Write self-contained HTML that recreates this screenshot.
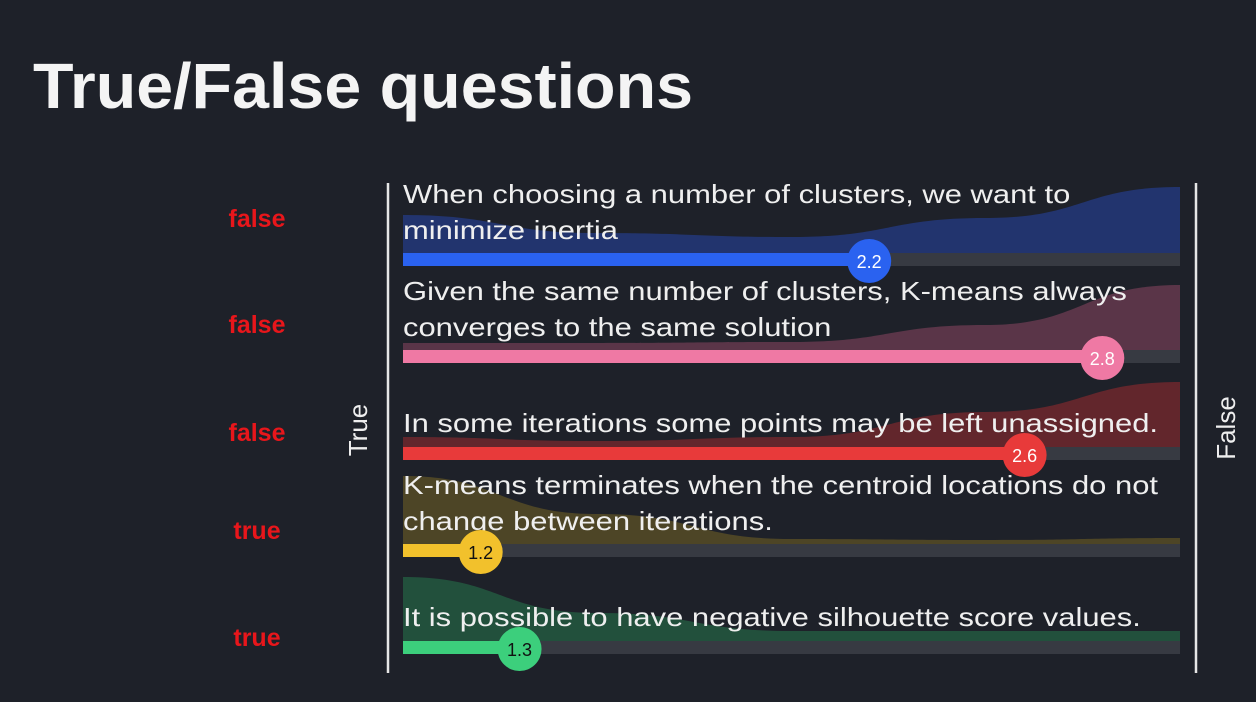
<!DOCTYPE html>
<html><head><meta charset="utf-8"><style>
html,body{margin:0;padding:0;background:#1e2129;}
svg{display:block;font-family:"Liberation Sans",sans-serif;}
</style></head><body>
<svg id="chart" width="1256" height="702" viewBox="0 0 1256 702">
<rect width="1256" height="702" fill="#1e2129"/>
<text x="33" y="108" font-size="64" font-weight="bold" fill="#f4f4f4" textLength="660" lengthAdjust="spacingAndGlyphs">True/False questions</text>
<line x1="388" y1="183" x2="388" y2="673" stroke="#e6e6e6" stroke-width="2.5"/>
<line x1="1196" y1="183" x2="1196" y2="673" stroke="#e6e6e6" stroke-width="2.5"/>
<text transform="translate(367,430) rotate(-90)" text-anchor="middle" font-size="26" fill="#eee">True</text>
<text transform="translate(1235,428) rotate(-90)" text-anchor="middle" font-size="26" fill="#eee">False</text>
<g id="rows"></g>
</svg>
<script>
const questions = [
 ["When choosing a number of clusters, we want to","minimize inertia"],
 ["Given the same number of clusters, K-means always","converges to the same solution"],
 ["In some iterations some points may be left unassigned."],
 ["K-means terminates when the centroid locations do not","change between iterations."],
 ["It is possible to have negative silhouette score values."]
];
const answers = ["false","false","false","true","true"];
const means = [2.2, 2.8, 2.6, 1.2, 1.3];
const densities = [
 [38,20,16,35,66],
 [7,7,8,25,65],
 [10,6,10,35,65],
 [68,30,5,4,6],
 [64,28,10,10,10]
];
const colors = ["#2a62f0","#ef79a4","#e83a3a","#f2c12c","#3ccf7c"];
const areaColors = ["#22346e","#5a3548","#62262c","#4d4526","#22503c"];
const labelColors = ["#fff","#fff","#fff","#111","#111"];
const answerOffsets = [-26,-17,-6,-5,5];

const X0=403, X1=1180, VMIN=1, VMAX=3;
const xScale = v => X0 + (v-VMIN)/(VMAX-VMIN)*(X1-X0);
const trackTop = i => 253 + i*97;
const NS="http://www.w3.org/2000/svg";
const g=document.getElementById('rows');
function mk(tag,attrs){const e=document.createElementNS(NS,tag);for(const k in attrs)e.setAttribute(k,attrs[k]);return e;}

questions.forEach((q,i)=>{
  const base=trackTop(i);
  const row=mk('g',{});
  
  
  g.appendChild(row);
  const d=densities[i], n=d.length;
  const pts=d.map((h,k)=>[xScale(VMIN+k*(VMAX-VMIN)/(n-1)), base-h]);
  let p=`M${X0},${base} L${pts[0][0]},${pts[0][1]}`;
  for(let k=0;k<n-1;k++){
    const [xa,ya]=pts[k],[xb,yb]=pts[k+1];const mx=(xa+xb)/2;
    p+=` C${mx},${ya} ${mx},${yb} ${xb},${yb}`;
  }
  p+=` L${X1},${base} Z`;
  const area=mk('path',{d:p,fill:areaColors[i]});
  
  
  row.appendChild(area);
  const track=mk('rect',{x:X0,y:base,width:X1-X0,height:13,fill:'#373a42'});
  
  
  row.appendChild(track);
  const cx=xScale(means[i]);
  const bar=mk('rect',{x:X0,y:base,width:cx-X0,height:13,fill:colors[i]});
  
  
  row.appendChild(bar);
  const lineYs = q.length===2 ? [base-50, base-14] : [base-15];
  q.forEach((t,k)=>{
    const tx=mk('text',{x:X0,y:lineYs[k],'font-size':26,fill:'#efefef'});
    tx.textContent=t;
    
    
    row.appendChild(tx);
    const w=tx.getComputedTextLength();
    if(w>0){tx.setAttribute('textLength',(w*1.19).toFixed(1));tx.setAttribute('lengthAdjust','spacingAndGlyphs');}
  });
  const c=mk('circle',{cx:cx,cy:base+8,r:22,fill:colors[i]});
  
  
  row.appendChild(c);
  const ct=mk('text',{x:cx,y:base+15,'font-size':18,'text-anchor':'middle',fill:labelColors[i]});
  ct.textContent=means[i].toFixed(1);
  
  
  row.appendChild(ct);
  const a=mk('text',{x:257,y:base+answerOffsets[i],'font-size':25,'font-weight':'bold','text-anchor':'middle',fill:'#e8161b'});
  a.textContent=answers[i];
  
  
  row.appendChild(a);
});
</script>
</body></html>
